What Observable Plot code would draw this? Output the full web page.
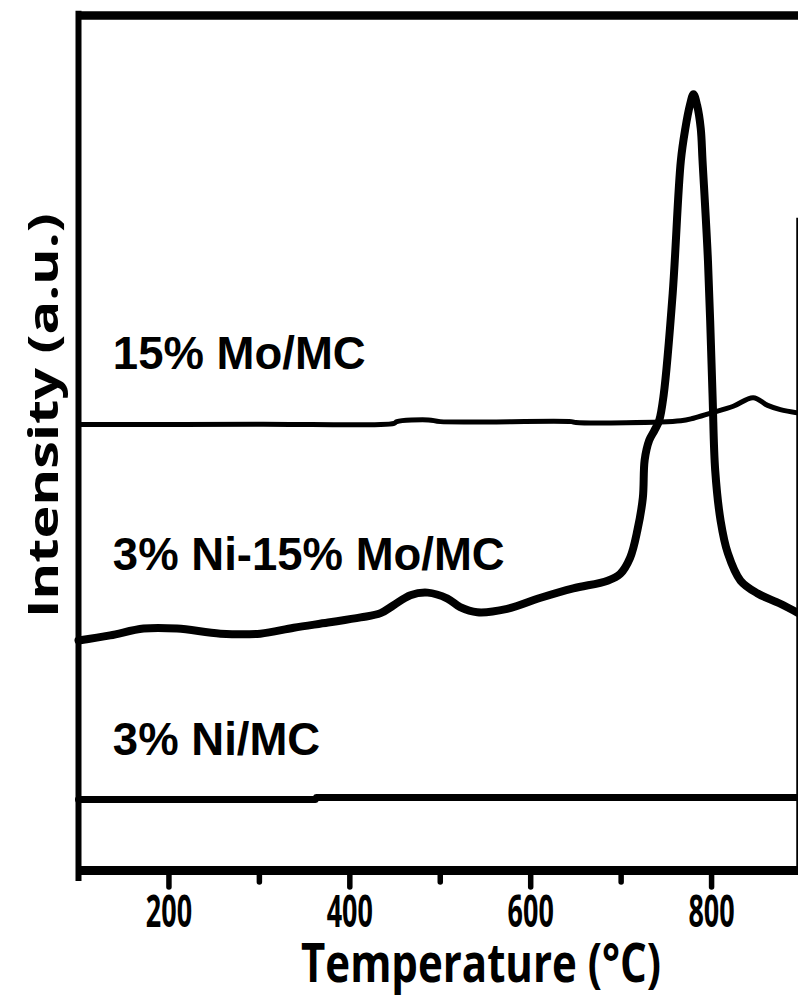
<!DOCTYPE html>
<html>
<head>
<meta charset="utf-8">
<script src="https://cdn.jsdelivr.net/npm/d3@7"></script>
<script src="https://cdn.jsdelivr.net/npm/@observablehq/plot@0.6"></script>
<style>
  html, body { margin: 0; padding: 0; background: #fff; }
  #chart svg { display: block; }
</style>
</head>
<body>
<div id="chart"></div>
<script>
// ---- data (temperature in °C, intensity in arbitrary units) ----
const niMoTemp = [100, 135, 172, 209, 257, 301, 338, 376, 412, 434, 448, 467, 486, 508, 522, 541, 574, 611, 647, 685, 699, 710, 718, 724, 726, 731, 737, 742, 747, 757, 766, 771, 776, 780, 784, 788, 790, 796, 801, 804, 810, 818, 832, 851, 876, 896];
const niMoInt  = [26.9, 27.5, 28.3, 28.3, 27.7, 27.7, 28.4, 29.0, 29.6, 30.1, 31.0, 32.2, 32.5, 31.8, 30.8, 30.2, 30.6, 31.9, 33.0, 33.9, 34.7, 36.6, 39.8, 43.6, 48.0, 50.3, 51.5, 52.6, 55.6, 67.5, 83.0, 86.8, 89.5, 90.8, 89.5, 86.8, 83.0, 71.3, 55.8, 46.8, 40.9, 37.1, 33.9, 32.4, 31.2, 30.1];

const moTemp = [100, 300, 449, 452, 487, 500, 645, 650, 766, 780, 799, 824, 846, 862, 876, 896];
const moInt  = [52.16, 52.2, 52.3, 52.5, 52.7, 52.5, 52.5, 52.4, 52.6, 52.9, 53.5, 54.3, 55.3, 54.4, 53.9, 53.5];

const niTemp = [100, 362, 363, 896];
const niInt  = [8.3, 8.3, 8.54, 8.54];

const seriesNames = ["15% Mo/MC", "3% Ni-15% Mo/MC", "3% Ni/MC"];
const labelTemp = [138, 138, 138];
const labelInt  = [58.7, 35.2, 13.5];

const majorTicks = [200, 400, 600, 800];
const minorTicks = [100, 300, 500, 700];
const xTitle = "Temperature (°C)";
const yTitle = "Intensity (a.u.)";

// ---- build tables ----
const niMo = niMoTemp.map((t, i) => ({t, v: niMoInt[i]}));
const mo = moTemp.map((t, i) => ({t, v: moInt[i]}));
const ni = niTemp.map((t, i) => ({t, v: niInt[i]}));
const labels = seriesNames.map((name, i) => ({name, t: labelTemp[i], v: labelInt[i]}));

const sans = "'Open Sans', 'DejaVu Sans', sans-serif";
const arial = "'Liberation Sans', Arial, sans-serif";

const chart = Plot.plot({
  width: 798,
  height: 998,
  marginLeft: 78,
  marginRight: 1,
  marginTop: 15,
  marginBottom: 128,
  x: {domain: [100, 895], axis: null},
  y: {domain: [0, 100], axis: null},
  marks: [
    // curves
    Plot.line(mo, {x: "t", y: "v", stroke: "black", strokeWidth: 5, curve: "catmull-rom", strokeLinejoin: "round", strokeLinecap: "round"}),
    Plot.line(ni, {x: "t", y: "v", stroke: "black", strokeWidth: 7, curve: "linear"}),
    Plot.line(niMo, {x: "t", y: "v", stroke: "black", strokeWidth: 8, curve: "catmull-rom", strokeLinejoin: "round", strokeLinecap: "round"}),
    // frame
    Plot.ruleY([100], {x1: 98.5, x2: 905, stroke: "black", strokeWidth: 8.5}),
    Plot.ruleX([100], {y1: -1.3, y2: 100.5, stroke: "black", strokeWidth: 6}),
    Plot.ruleY([0], {x1: 98.5, x2: 905, stroke: "black", strokeWidth: 9}),
    Plot.ruleX([895], {y1: 0, y2: 76.3, stroke: "black", strokeWidth: 2.5}),
    // ticks
    Plot.ruleX(majorTicks, {y1: 0, y2: -2.0, stroke: "black", strokeWidth: 5.5, strokeLinecap: "round"}),
    Plot.ruleX(minorTicks.slice(1), {y1: 0, y2: -1.4, stroke: "black", strokeWidth: 5.5, strokeLinecap: "round"}),
    // tick labels
    Plot.text(majorTicks, {x: d => d, text: d => String(d), frameAnchor: "bottom", dy: 56, lineAnchor: "bottom", textAnchor: "middle", fontFamily: sans, fontWeight: "bold", fontSize: 29, fill: "black"}),
    // series labels
    Plot.text(labels, {x: "t", y: "v", text: "name", textAnchor: "start", lineAnchor: "bottom", fontFamily: arial, fontWeight: "bold", fontSize: 45.5, fill: "black"}),
    // axis titles
    Plot.text([xTitle], {x: 545, frameAnchor: "bottom", dy: 111, text: d => d, textAnchor: "middle", lineAnchor: "bottom", fontFamily: sans, fontWeight: "bold", fontSize: 42, fill: "black"}),
    Plot.text([yTitle], {y: 53.2, frameAnchor: "left", dx: -21, text: d => d, rotate: -90, textAnchor: "middle", lineAnchor: "bottom", fontFamily: sans, fontWeight: "bold", fontSize: 42, fill: "black"})
  ]
});

// stretch the axis texts like in the reference
const stretch = (txt, sx, sy) => {
  chart.querySelectorAll("text").forEach(el => {
    if (el.textContent === txt) {
      const tr = el.getAttribute("transform") || "";
      el.setAttribute("transform", tr + ` scale(${sx},${sy})`);
    }
  });
};
majorTicks.forEach(t => stretch(String(t), 0.93, 1.55));
stretch(xTitle, 1, 1.3);
stretch(yTitle, 1.33, 1);

document.getElementById("chart").appendChild(chart);
</script>
</body>
</html>
